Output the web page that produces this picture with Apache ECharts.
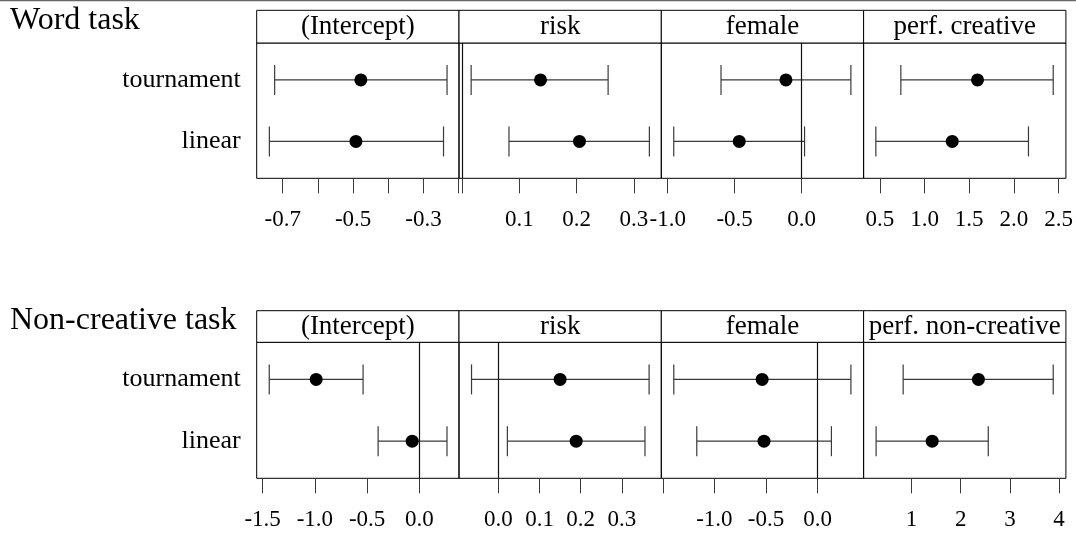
<!DOCTYPE html>
<html>
<head>
<meta charset="utf-8">
<script src="https://cdn.jsdelivr.net/npm/echarts@6/dist/echarts.min.js"></script>
<style>
  html, body { margin: 0; padding: 0; background: #fff; }
  #chart { width: 1076px; height: 534px; }
</style>
</head>
<body>
<div id="chart"></div>
<script>
// Coefficient estimates with intervals, tournament vs. linear, for two tasks.
const groups = ['tournament', 'linear'];

const rowTitles = ['Word task', 'Non-creative task'];

const wordTerms = ['(Intercept)', 'risk', 'female', 'perf. creative'];
const wordEst = [[-0.478, -0.492], [0.137, 0.205], [-0.117, -0.466], [1.593, 1.310]];
const wordLo  = [[-0.723, -0.738], [0.016, 0.082], [-0.602, -0.955], [0.735, 0.455]];
const wordHi  = [[-0.233, -0.243], [0.255, 0.327], [0.368, 0.022], [2.440, 2.163]];

const nonTerms = ['(Intercept)', 'risk', 'female', 'perf. non-creative'];
const nonEst = [[-0.988, -0.069], [0.150, 0.189], [-0.537, -0.519], [2.36, 1.42]];
const nonLo  = [[-1.437, -0.395], [-0.065, 0.022], [-1.394, -1.171], [0.83, 0.28]];
const nonHi  = [[-0.539, 0.264], [0.366, 0.356], [0.324, 0.135], [3.88, 2.56]];

// x-axis limits per panel
const wordXMin = [-0.774, -0.0052, -1.048, 0.318];
const wordXMax = [-0.199, 0.3478, 0.463, 2.582];
const nonXMin = [-1.557, -0.0954, -1.515, 0.026];
const nonXMax = [0.379, 0.3956, 0.447, 4.138];

// tick positions and which of them carry a label
const wordTicks = [[-0.7, -0.6, -0.5, -0.4, -0.3, -0.2], [0, 0.1, 0.2, 0.3], [-1, -0.5, 0], [0.5, 1, 1.5, 2, 2.5]];
const wordTickLabels = [[-0.7, -0.5, -0.3], [0.1, 0.2, 0.3], [-1, -0.5, 0], [0.5, 1, 1.5, 2, 2.5]];
const nonTicks = [[-1.5, -1, -0.5, 0], [0, 0.1, 0.2, 0.3], [-1.5, -1, -0.5, 0], [1, 2, 3, 4]];
const nonTickLabels = [[-1.5, -1, -0.5, 0], [0, 0.1, 0.2, 0.3], [-1, -0.5, 0], [1, 2, 3, 4]];
const nonDecimals = [1, 1, 1, 0];

// ---- layout ----
const FONT = '"Liberation Serif", "DejaVu Serif", serif';
const PANEL_LEFT = 256.7;
const PANEL_W = 202.3;
const rows = [
  { stripTop: 10.3, panelTop: 43, panelBottom: 178.3, titleY: 20.5 },
  { stripTop: 310.7, panelTop: 342.3, panelBottom: 478.3, titleY: 320.5 }
];
const WHISKER = '#3a3a3a';
const CAP = 15;

const rowData = [
  { terms: wordTerms, est: wordEst, lo: wordLo, hi: wordHi, xMin: wordXMin, xMax: wordXMax,
    ticks: wordTicks, labels: wordTickLabels, dec: [1, 1, 1, 1] },
  { terms: nonTerms, est: nonEst, lo: nonLo, hi: nonHi, xMin: nonXMin, xMax: nonXMax,
    ticks: nonTicks, labels: nonTickLabels, dec: nonDecimals }
];

const grid = [], xAxis = [], yAxis = [], series = [], graphic = [];

graphic.push({
  type: 'line', shape: { x1: 0, y1: 0.5, x2: 1076, y2: 0.5 },
  style: { stroke: '#666', lineWidth: 1.5 }, silent: true
});

rowData.forEach((rd, r) => {
  const L = rows[r];
  graphic.push({
    type: 'text', silent: true,
    style: { text: rowTitles[r], font: '32px ' + FONT, fill: '#000', verticalAlign: 'middle' },
    x: 10, y: L.titleY
  });
  rd.terms.forEach((term, c) => {
    const idx = grid.length;
    const left = PANEL_LEFT + c * PANEL_W;
    grid.push({
      left: left, top: L.panelTop, width: PANEL_W, height: L.panelBottom - L.panelTop,
      show: true, borderColor: '#000', borderWidth: 1, backgroundColor: 'transparent',
      containLabel: false, outerBoundsMode: 'none'
    });
    // strip with the term name
    graphic.push({
      type: 'rect', silent: true, z: 10,
      shape: { x: left, y: L.stripTop, width: PANEL_W, height: L.panelTop - L.stripTop },
      style: { fill: '#fff', stroke: '#000', lineWidth: 1 }
    });
    graphic.push({
      type: 'text', silent: true, z: 11,
      x: left + PANEL_W / 2, y: (L.stripTop + L.panelTop) / 2 + 0.5,
      style: { text: term, font: '27px ' + FONT, fill: '#000', align: 'center', verticalAlign: 'middle' }
    });

    const dec = rd.dec[c];
    xAxis.push({
      type: 'value', gridIndex: idx, min: rd.xMin[c], max: rd.xMax[c],
      axisLine: { show: false },
      splitLine: { show: false },
      axisTick: { show: true, length: 15, customValues: rd.ticks[c], lineStyle: { color: WHISKER, width: 1 } },
      axisLabel: {
        show: true, customValues: rd.labels[c], margin: 30,
        fontFamily: FONT, fontSize: 23, color: '#000',
        formatter: v => Number(v).toFixed(dec)
      }
    });
    yAxis.push({
      type: 'value', gridIndex: idx, min: 0.4, max: 2.6, inverse: true,
      axisLine: { show: false }, axisTick: { show: false }, splitLine: { show: false },
      axisLabel: {
        show: c === 0, customValues: [1, 2], margin: 16,
        fontFamily: FONT, fontSize: 26, color: '#000',
        formatter: v => groups[Math.round(v) - 1]
      }
    });

    const barData = groups.map((g, k) => [rd.lo[c][k], rd.hi[c][k], k + 1]);
    const dotData = groups.map((g, k) => [rd.est[c][k], k + 1]);
    const hasZero = rd.xMin[c] <= 0 && rd.xMax[c] >= 0;

    series.push({
      type: 'custom', xAxisIndex: idx, yAxisIndex: idx, silent: true,
      data: barData,
      encode: { x: [0, 1], y: 2 },
      renderItem: (params, api) => {
        const y = api.value(2);
        const a = api.coord([api.value(0), y]);
        const b = api.coord([api.value(1), y]);
        const st = { stroke: WHISKER, lineWidth: 1.2 };
        return {
          type: 'group', children: [
            { type: 'line', shape: { x1: a[0], y1: a[1], x2: b[0], y2: b[1] }, style: st },
            { type: 'line', shape: { x1: a[0], y1: a[1] - CAP, x2: a[0], y2: a[1] + CAP }, style: st },
            { type: 'line', shape: { x1: b[0], y1: b[1] - CAP, x2: b[0], y2: b[1] + CAP }, style: st }
          ]
        };
      },
      markLine: hasZero ? {
        silent: true, symbol: 'none', animation: false,
        label: { show: false },
        lineStyle: { color: '#111', width: 1.2, type: 'solid' },
        data: [{ xAxis: 0 }]
      } : undefined
    });
    series.push({
      type: 'scatter', xAxisIndex: idx, yAxisIndex: idx, silent: true,
      symbol: 'circle', symbolSize: 13,
      itemStyle: { color: '#000', opacity: 1 },
      data: dotData, z: 5
    });
  });
});

const chart = echarts.init(document.getElementById('chart'), null, { renderer: 'canvas' });
chart.setOption({
  animation: false,
  backgroundColor: '#fff',
  grid, xAxis, yAxis, series, graphic
});
</script>
</body>
</html>
